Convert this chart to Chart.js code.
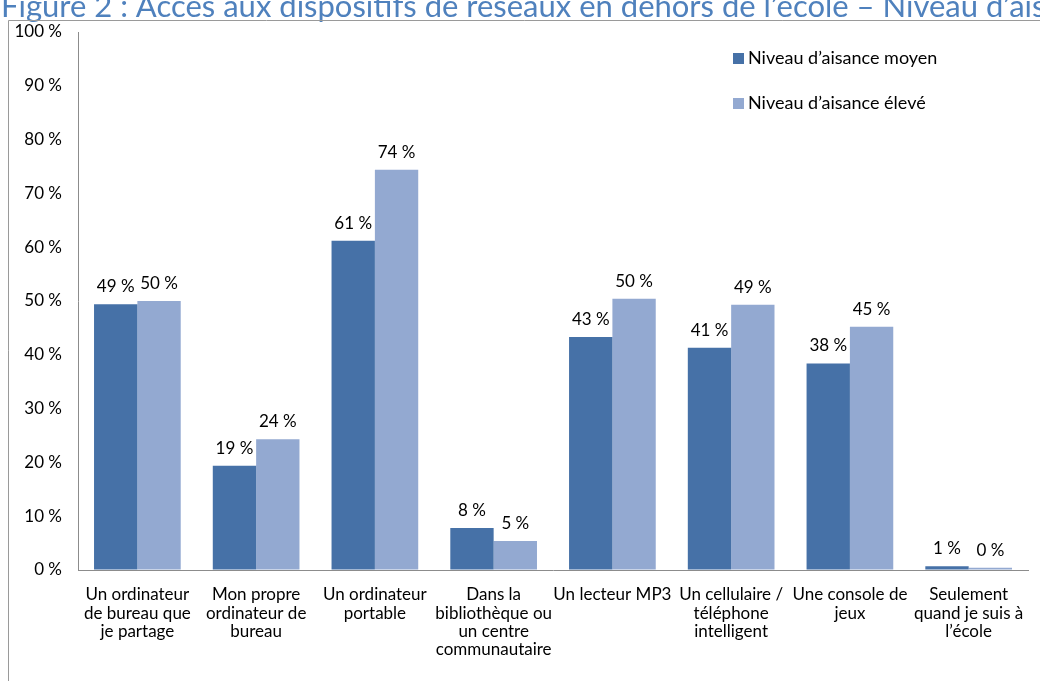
<!DOCTYPE html>
<html lang="fr">
<head>
<meta charset="utf-8">
<title>Accès aux dispositifs de réseaux</title>
<script src="https://cdn.jsdelivr.net/npm/chart.js@4.4.1/dist/chart.umd.min.js"></script>
<style>
  html, body { margin: 0; padding: 0; background: #fff; overflow: hidden; }
  #wrap { position: absolute; left: 0; top: 0; width: 1040px; height: 681px; }
</style>
</head>
<body>
<div id="wrap"><canvas id="c"></canvas></div>
<script>
// Categories (multi-line axis labels)
const categories = [
  ["Un ordinateur", "de bureau que", "je partage"],
  ["Mon propre", "ordinateur de", "bureau"],
  ["Un ordinateur", "portable"],
  ["Dans la", "bibliothèque ou", "un centre", "communautaire"],
  ["Un lecteur MP3"],
  ["Un cellulaire /", "téléphone", "intelligent"],
  ["Une console de", "jeux"],
  ["Seulement", "quand je suis à", "l’école"]
];
const seriesNames = ["Niveau d’aisance moyen", "Niveau d’aisance élevé"];
const moyen = [49.4, 19.4, 61.2, 7.8, 43.3, 41.3, 38.4, 0.7];
const eleve = [50.0, 24.3, 74.4, 5.4, 50.4, 49.3, 45.2, 0.4];
const yTicks = [0, 10, 20, 30, 40, 50, 60, 70, 80, 90, 100];
const titleText = "Figure 2 : Accès aux dispositifs de réseaux en dehors de l’école – Niveau d’aisance";

const FONT = "Lato, 'Open Sans', sans-serif";
const colors = ["#4671a7", "#93a9d1"];

// Heading (runs off the top and right edges) and the chart frame
const pageDecor = {
  id: "pageDecor",
  beforeDraw(chart) {
    const ctx = chart.ctx;
    ctx.save();
    ctx.font = "31px " + FONT;
    ctx.fillStyle = "#4f81bd";
    ctx.textBaseline = "alphabetic";
    ctx.textAlign = "left";
    ctx.fillText(titleText, 1, 17);
    ctx.strokeStyle = "#9a9a9a";
    ctx.lineWidth = 1;
    ctx.beginPath();
    ctx.moveTo(8.5, 681);
    ctx.lineTo(8.5, 20.5);
    ctx.lineTo(1040, 20.5);
    ctx.stroke();
    ctx.restore();
  }
};

// Value labels above each bar
const valueLabels = {
  id: "valueLabels",
  afterDatasetsDraw(chart) {
    const ctx = chart.ctx;
    ctx.save();
    ctx.font = "17px " + FONT;
    ctx.fillStyle = "#000";
    ctx.textAlign = "center";
    ctx.textBaseline = "bottom";
    chart.data.datasets.forEach((ds, i) => {
      chart.getDatasetMeta(i).data.forEach((bar, j) => {
        ctx.fillText(Math.round(ds.data[j]) + " %", bar.x, bar.y - 9);
      });
    });
    ctx.restore();
  }
};

// Legend drawn inside the plot area, upper right
const insideLegend = {
  id: "insideLegend",
  afterDraw(chart) {
    const ctx = chart.ctx;
    ctx.save();
    ctx.font = "18px " + FONT;
    ctx.textBaseline = "middle";
    ctx.textAlign = "left";
    chart.data.datasets.forEach((ds, i) => {
      const x = 733, y = 58 + i * 45;
      ctx.fillStyle = ds.backgroundColor;
      ctx.fillRect(x, y - 5, 11, 11);
      ctx.fillStyle = "#000";
      ctx.fillText(ds.label, x + 15, y);
    });
    ctx.restore();
  }
};

new Chart(document.getElementById("c"), {
  type: "bar",
  data: {
    labels: categories,
    datasets: [
      { label: seriesNames[0], data: moyen, backgroundColor: colors[0] },
      { label: seriesNames[1], data: eleve, backgroundColor: colors[1] }
    ]
  },
  options: {
    responsive: true,
    maintainAspectRatio: false,
    animation: false,
    events: [],
    layout: { padding: { left: 0, top: 32, right: 11, bottom: 0 } },
    datasets: { bar: { categoryPercentage: 0.73, barPercentage: 1.0 } },
    plugins: { legend: { display: false }, tooltip: { enabled: false } },
    scales: {
      x: {
        grid: { display: false, drawTicks: false },
        border: { color: "#8c8c8c", width: 1 },
        ticks: {
          color: "#000", font: { family: FONT, size: 17, lineHeight: 1.06 }, padding: 16,
          maxRotation: 0, autoSkip: false
        },
        afterFit(s) { s.height = 111; }
      },
      y: {
        min: 0, max: 100,
        afterBuildTicks(s) { s.ticks = yTicks.map(v => ({ value: v })); },
        grid: { drawOnChartArea: false, drawTicks: true, tickLength: 16, tickColor: "rgba(0,0,0,0)" },
        border: { color: "#8c8c8c", width: 1 },
        ticks: {
          color: "#000", font: { family: FONT, size: 17 }, padding: 0,
          callback: v => v + " %"
        },
        afterFit(s) { s.width = 78; }
      }
    }
  },
  plugins: [pageDecor, valueLabels, insideLegend]
});
</script>
</body>
</html>
